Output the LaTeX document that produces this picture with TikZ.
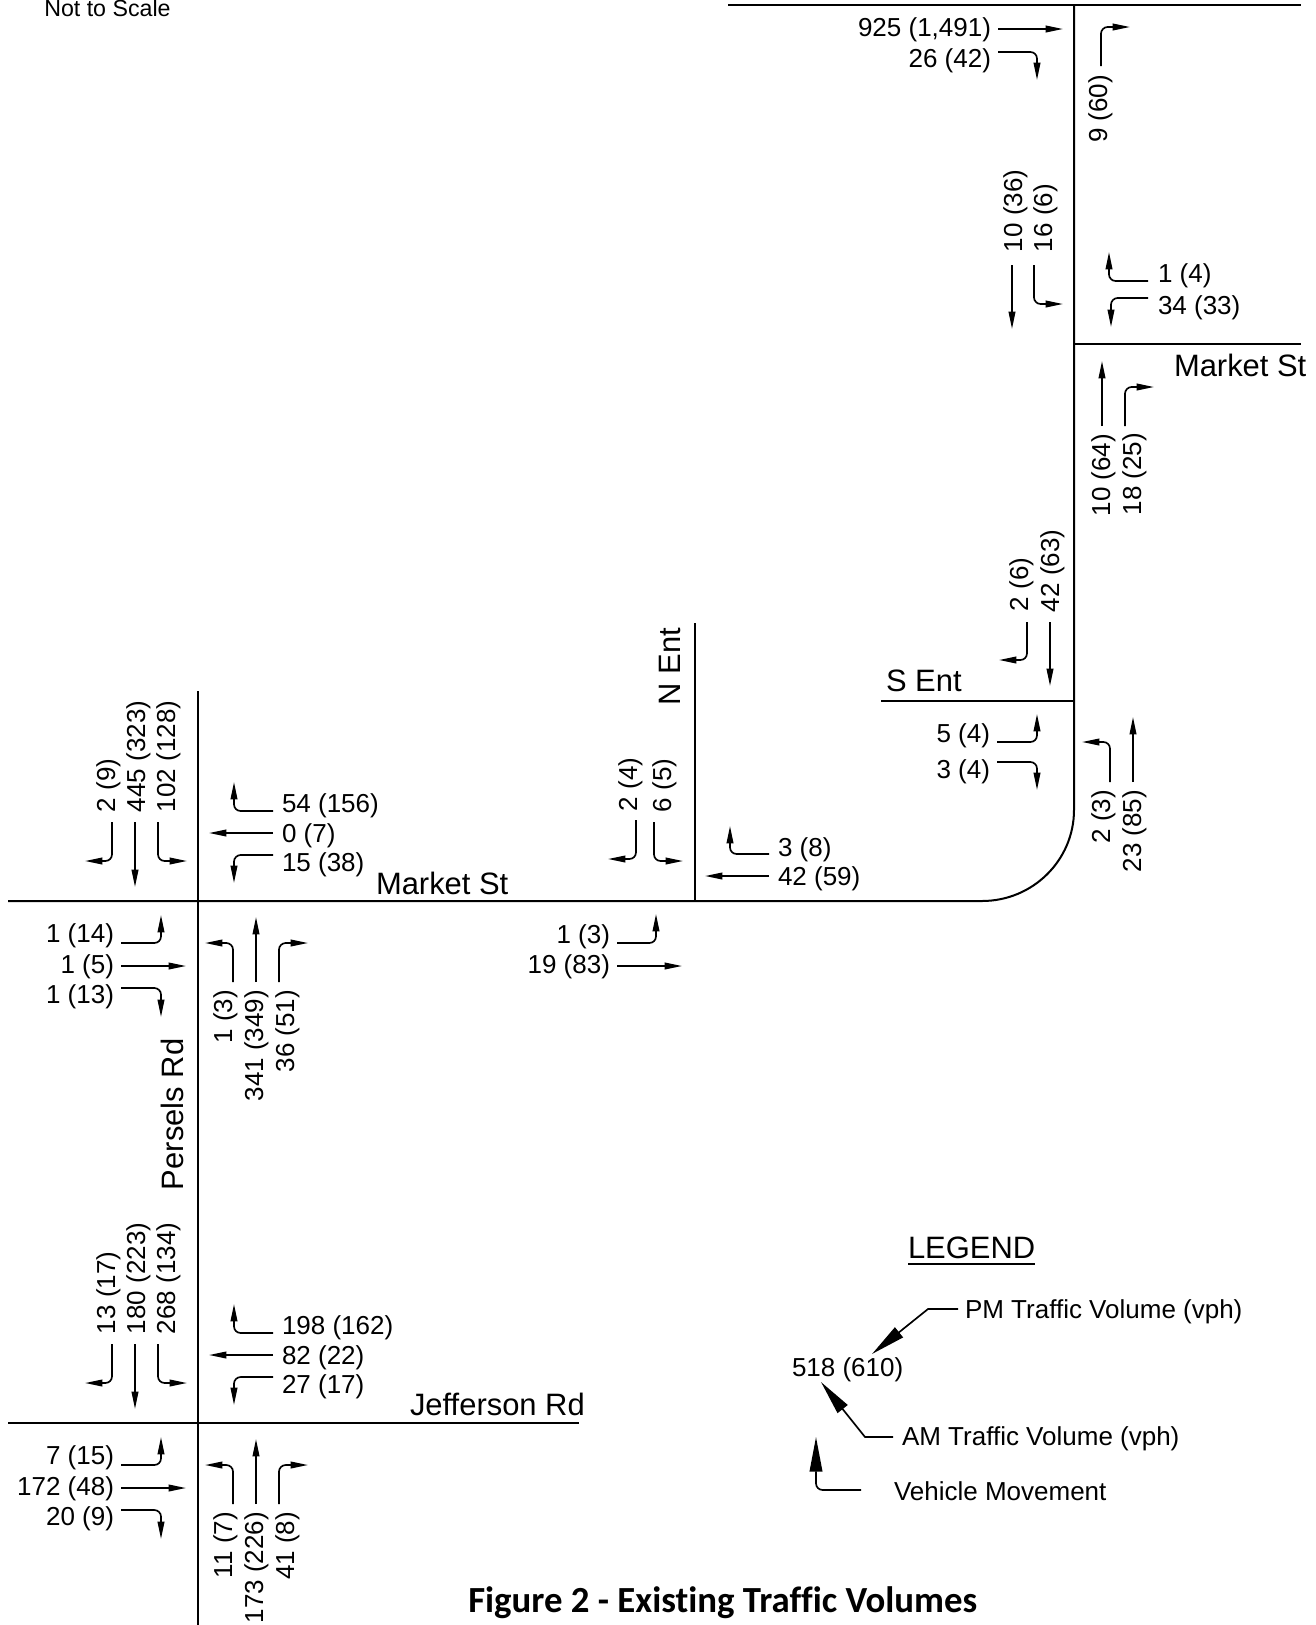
\documentclass[tikz,border=0pt]{standalone}
\usepackage{fontspec}
\setmainfont{Liberation Sans}[Ligatures=NoCommon]
\newfontfamily\titlefont{Carlito}[Ligatures=NoCommon]
\usetikzlibrary{arrows.meta}
\newcounter{lab}
\newcommand{\volfont}{\fontsize{19.5pt}{22pt}\selectfont}
\newcommand{\bigfont}{\fontsize{23.2pt}{26pt}\selectfont}
% horizontal text: ending at / starting from a point; vertical text: ending at / starting from a point
\newcommand{\LE}[3]{\stepcounter{lab}\node[lbl,anchor=base east] (t\arabic{lab}) at (#1,#2) {#3};}
\newcommand{\LS}[3]{\stepcounter{lab}\node[lbl,anchor=base west] (t\arabic{lab}) at (#1,#2) {#3};}
\newcommand{\VE}[3]{\stepcounter{lab}\node[lbl,rotate=90,anchor=base east] (t\arabic{lab}) at (#1,#2) {#3};}
\newcommand{\VS}[3]{\stepcounter{lab}\node[lbl,rotate=90,anchor=base west] (t\arabic{lab}) at (#1,#2) {#3};}
\tikzset{
  road/.style={line width=1.5pt,black},
  mv/.style={line width=1.25pt,black,rounded corners=5pt,-{Triangle[length=13pt,width=5pt]}},
  leg/.style={line width=1.25pt,black,rounded corners=0pt,-{Triangle[length=26pt,width=9.5pt]}},
  lbl/.style={inner sep=0pt,outer sep=0pt,font=\volfont,text=black},
  big/.style={inner sep=0pt,outer sep=0pt,font=\bigfont,text=black}
}
\begin{document}
\begin{tikzpicture}[x=0.75pt,y=-0.75pt]
\useasboundingbox (0,0) rectangle (1316,1625);
% roads
\draw[road] (8,901) -- (982,901) .. controls (1033,901) and (1074,860) .. (1074,810) -- (1074,4);
\draw[road] (728,4.5) -- (1301,4.5);
\draw[road] (1074,344) -- (1301,344);
\draw[road] (881,701) -- (1074,701);
\draw[road] (694.5,623) -- (694.5,901);
\draw[road] (198,691) -- (198,1625);
\draw[road] (8,1423) -- (579,1423);
% two full intersections on Persels Rd
\foreach \dy in {0,522}{
\begin{scope}[shift={(0,\dy)}]
\draw[mv] (112,822) -- (112,861) -- (85,861);
\draw[mv] (135,822) -- (135,887);
\draw[mv] (158,822) -- (158,861) -- (187,861);
\draw[mv] (273,811) -- (234,811) -- (234,782);
\draw[mv] (273,833) -- (209,833);
\draw[mv] (273,855) -- (234,855) -- (234,883);
\draw[mv] (121,943) -- (161,943) -- (161,915);
\draw[mv] (121,966) -- (186,966);
\draw[mv] (121,988) -- (161,988) -- (161,1017);
\draw[mv] (233,982) -- (233,943) -- (205,943);
\draw[mv] (256,982) -- (256,917);
\draw[mv] (279,982) -- (279,943) -- (308,943);
\end{scope}}
% N Ent
\draw[mv] (636,820) -- (636,859) -- (608,859);
\draw[mv] (654,822) -- (654,861) -- (683,861);
\draw[mv] (769,854) -- (730,854) -- (730,826);
\draw[mv] (769,876) -- (705,876);
\draw[mv] (617,943) -- (656,943) -- (656,914);
\draw[mv] (617,966) -- (682,966);
% S Ent
\draw[mv] (1027,622) -- (1027,660) -- (999,660);
\draw[mv] (1050,622) -- (1050,686);
\draw[mv] (997,742) -- (1037,742) -- (1037,714);
\draw[mv] (997,762) -- (1037,762) -- (1037,790);
\draw[mv] (1110,782) -- (1110,742) -- (1082,742);
\draw[mv] (1133,782) -- (1133,717);
% Market St north
\draw[mv] (1102,426) -- (1102,361);
\draw[mv] (1125,426) -- (1125,387) -- (1154,387);
\draw[mv] (1012,265) -- (1012,329);
\draw[mv] (1034,265) -- (1034,304) -- (1063,304);
\draw[mv] (1148,281) -- (1109,281) -- (1109,252);
\draw[mv] (1148,298) -- (1111,298) -- (1111,327);
% top
\draw[mv] (998,29) -- (1063,29);
\draw[mv] (998,52) -- (1037,52) -- (1037,80);
\draw[mv] (1101,66) -- (1101,27) -- (1130,27);
% labels: Persels / Market
\VS{115}{812}{2 (9)}
\VS{145}{812}{445 (323)}
\VS{175}{812}{102 (128)}
\LS{282}{812}{54 (156)}
\LS{282}{842}{0 (7)}
\LS{282}{871}{15 (38)}
\LE{114}{942}{1 (14)}
\LE{114}{973}{1 (5)}
\LE{114}{1003}{1 (13)}
\VE{232}{990}{1 (3)}
\VE{263}{990}{341 (349)}
\VE{294}{990}{36 (51)}
% labels: Persels / Jefferson
\VS{115}{1334}{13 (17)}
\VS{145}{1334}{180 (223)}
\VS{175}{1334}{268 (134)}
\LS{282}{1334}{198 (162)}
\LS{282}{1364}{82 (22)}
\LS{282}{1393}{27 (17)}
\LE{114}{1464}{7 (15)}
\LE{114}{1495}{172 (48)}
\LE{114}{1525}{20 (9)}
\VE{232}{1512}{11 (7)}
\VE{263}{1512}{173 (226)}
\VE{294}{1512}{41 (8)}
% labels: N Ent
\VS{637}{811}{2 (4)}
\VS{671}{812}{6 (5)}
\LS{778}{856}{3 (8)}
\LS{778}{885}{42 (59)}
\LE{610}{943}{1 (3)}
\LE{610}{973}{19 (83)}
% labels: S Ent
\VS{1028}{611}{2 (6)}
\VS{1059}{612}{42 (63)}
\LE{990}{742}{5 (4)}
\LE{990}{778}{3 (4)}
\VE{1110}{790}{2 (3)}
\VE{1141}{790}{23 (85)}
% labels: north
\VE{1110}{434}{10 (64)}
\VE{1141}{433}{18 (25)}
\VS{1022}{252}{10 (36)}
\VS{1052}{252}{16 (6)}
\LS{1158}{282}{1 (4)}
\LS{1158}{314}{34 (33)}
\LE{991}{36}{925 (1,491)}
\LE{991}{67}{26 (42)}
\VE{1107}{75}{9 (60)}
% street names
\node[big,anchor=base west] (mkt1) at (376,894) {Market St};
\node[big,anchor=base west] (mkt2) at (1174,376) {Market St};
\node[big,anchor=base west] (jeff) at (410,1415) {Jefferson Rd};
\node[big,anchor=base west] (sent) at (886,691) {S Ent};
\node[big,rotate=90,anchor=base west] (nent) at (680,705) {N Ent};
\node[big,rotate=90,anchor=base west] (pers) at (183,1190) {Persels Rd};
% note
\node[inner sep=0pt,font=\fontsize{17.4pt}{20pt}\selectfont,anchor=base west] (note) at (44,16) {Not to Scale};
% legend
\node[big,anchor=base west] (legend) at (908,1258) {LEGEND};
\draw[line width=1.1pt] (legend.south west |- 0,1264) -- (legend.south east |- 0,1264);
\LS{965}{1318}{PM Traffic Volume (vph)}
\LS{792}{1376}{518 (610)}
\LS{902}{1445}{AM Traffic Volume (vph)}
\LS{894}{1500}{Vehicle Movement}
\draw[leg] (958,1309) -- (928,1309) -- (872,1354);
\draw[leg] (893,1437) -- (865,1437) -- (821,1382);
\draw[leg,rounded corners=5pt] (861,1490) -- (816,1490) -- (816,1437);
% title
\node[inner sep=0pt,anchor=base west,font=\titlefont\bfseries\fontsize{27.6pt}{30pt}\selectfont] (title) at (468,1612) {Figure 2 - Existing Traffic Volumes};
\end{tikzpicture}
\end{document}
